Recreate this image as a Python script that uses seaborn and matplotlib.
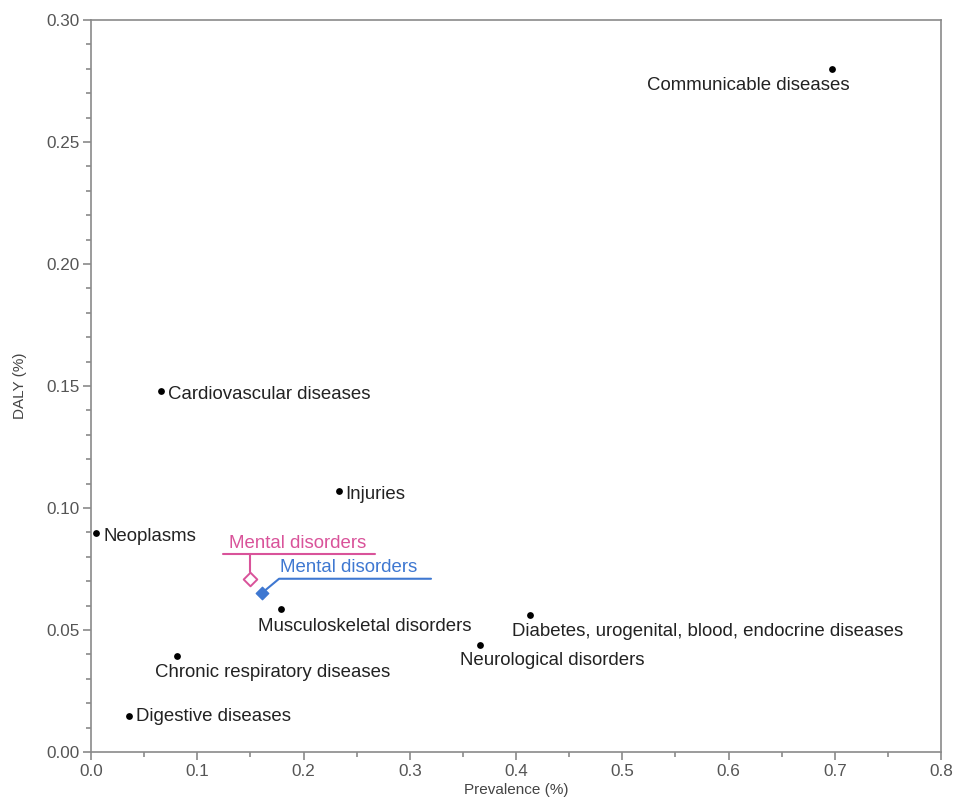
import matplotlib
matplotlib.use("Agg")
import matplotlib.pyplot as plt
import seaborn as sns
import pandas as pd
from matplotlib.ticker import MultipleLocator

categories = ["Communicable diseases", "Cardiovascular diseases", "Injuries", "Neoplasms",
              "Musculoskeletal disorders", "Diabetes, urogenital, blood, endocrine diseases",
              "Neurological disorders", "Chronic respiratory diseases", "Digestive diseases"]
prevalence = [0.697, 0.066, 0.233, 0.005, 0.179, 0.413, 0.366, 0.081, 0.036]
daly = [0.280, 0.148, 0.107, 0.0898, 0.0586, 0.0561, 0.0439, 0.0393, 0.0148]

mental_labels = ["Mental disorders", "Mental disorders"]
mental_prev = [0.150, 0.161]
mental_daly = [0.0710, 0.0652]

# label offsets in points (dx, dy, ha, va)
label_pos = {
    "Communicable diseases": (13, -12, "right", "center"),
    "Cardiovascular diseases": (5, -2.5, "left", "center"),
    "Injuries": (5, -2.5, "left", "center"),
    "Neoplasms": (5, -2.5, "left", "center"),
    "Musculoskeletal disorders": (-17, -12.5, "left", "center"),
    "Diabetes, urogenital, blood, endocrine diseases": (-13, -11.5, "left", "center"),
    "Neurological disorders": (-14, -11.5, "left", "center"),
    "Chronic respiratory diseases": (-16, -11.5, "left", "center"),
    "Digestive diseases": (5, -0.5, "left", "center"),
}

sns.set_theme(style="ticks")
plt.rcParams["font.family"] = ["Liberation Sans", "DejaVu Sans"]

fig = plt.figure(figsize=(9.57, 8.01), dpi=100)
ax = fig.add_axes([0.0951, 0.0612, 0.8882, 0.9138])

df = pd.DataFrame({"Prevalence": prevalence, "DALY": daly, "Category": categories})
sns.scatterplot(data=df, x="Prevalence", y="DALY", color="black", s=24, ax=ax,
                edgecolor="black", linewidth=0, zorder=3)

pink = "#d9539a"
blue = "#3f78d1"
# mental disorders markers
ax.scatter([mental_prev[0]], [mental_daly[0]], marker="D", s=48, facecolor="white",
           edgecolor=pink, linewidth=1.4, zorder=4)
ax.scatter([mental_prev[1]], [mental_daly[1]], marker="D", s=40, facecolor=blue,
           edgecolor=blue, linewidth=1, zorder=4)

FS = 13.4
for c, x, y in zip(categories, prevalence, daly):
    dx, dy, ha, va = label_pos[c]
    ax.annotate(c, (x, y), xytext=(dx, dy), textcoords="offset points",
                ha=ha, va=va, fontsize=FS, color="#222222")

# pink callout
ax.annotate(mental_labels[0], (mental_prev[0], mental_daly[0]), xytext=(-15.5, 25.5),
            textcoords="offset points", ha="left", va="center", fontsize=FS, color=pink)
ax.plot([0.124, 0.267], [0.0813, 0.0813], color=pink, lw=1.5, zorder=3)
ax.plot([mental_prev[0], mental_prev[0]], [0.0813, 0.0736], color=pink, lw=1.5, zorder=3)
# blue callout
ax.annotate(mental_labels[1], (mental_prev[1], mental_daly[1]), xytext=(13, 18),
            textcoords="offset points", ha="left", va="center", fontsize=FS, color=blue)
ax.plot([mental_prev[1], 0.177, 0.320], [mental_daly[1], 0.0710, 0.0710], color=blue, lw=1.5, zorder=3)

ax.set_xlim(0, 0.8)
ax.set_ylim(0, 0.30)
ax.xaxis.set_major_locator(MultipleLocator(0.1))
ax.xaxis.set_minor_locator(MultipleLocator(0.05))
ax.yaxis.set_major_locator(MultipleLocator(0.05))
ax.yaxis.set_minor_locator(MultipleLocator(0.01))
ax.xaxis.set_major_formatter(plt.FuncFormatter(lambda v, p: f"{v:.1f}"))
ax.yaxis.set_major_formatter(plt.FuncFormatter(lambda v, p: f"{v:.2f}"))

gray = "#8a8a8a"
for s in ax.spines.values():
    s.set_color(gray)
    s.set_linewidth(1.2)
ax.tick_params(which="major", length=6, width=1.2, color=gray, labelsize=12.3,
               labelcolor="#555555", direction="out", pad=2.5)
ax.tick_params(which="minor", length=3.5, width=1.2, color=gray, direction="out")

ax.set_xlabel("Prevalence (%)", fontsize=11, color="#444444", labelpad=3)
ax.set_ylabel("DALY (%)", fontsize=11, color="#444444", labelpad=14)

fig.savefig("out.png", dpi=100)
